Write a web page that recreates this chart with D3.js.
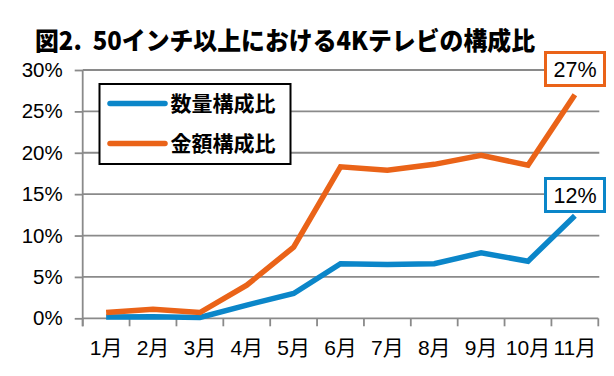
<!DOCTYPE html>
<html><head><meta charset="utf-8">
<script src="https://cdn.jsdelivr.net/npm/d3@7/dist/d3.min.js"></script>
<style>
html,body{margin:0;padding:0;background:#fff;}
svg{display:block;}
</style></head>
<body>
<svg id="chart" width="614" height="376"></svg>
<script>
const title = "図2.  50インチ以上における4Kテレビの構成比";
const months = ["1月","2月","3月","4月","5月","6月","7月","8月","9月","10月","11月"];
const unitShare = [0.15, 0.2, 0.1, 1.6, 3.0, 6.6, 6.5, 6.6, 7.9, 6.9, 12.4];
const valueShare = [0.7, 1.1, 0.7, 4.0, 8.6, 18.3, 17.9, 18.6, 19.7, 18.5, 27.0];
const yTicks = [0, 5, 10, 15, 20, 25, 30];
const seriesNames = ["数量構成比", "金額構成比"];
const seriesColors = ["#0b86c9", "#ea6318"];
const endLabels = ["12%", "27%"];

const svg = d3.select("#chart");
const pLeft = 82.7, pRight = 598.3, pTop = 70, pBottom = 318.3;
const latin = "'Liberation Sans', 'Noto Sans CJK JP', sans-serif";
const cjk = "'Noto Sans CJK JP', sans-serif";
const gray = "#8a8a8a";

const x = d3.scaleBand().domain(months).range([pLeft, pRight]).padding(0);
const y = d3.scaleLinear().domain([0, 30]).range([pBottom, pTop]);

// title
svg.append("text").attr("x", 35).attr("y", 50)
  .style("white-space", "pre")
  .attr("font-family", "'Liberation Sans Narrow', 'Noto Sans CJK JP', sans-serif")
  .attr("font-weight", "900").attr("font-size", 25)
  .attr("textLength", 500).attr("lengthAdjust", "spacingAndGlyphs")
  .attr("fill", "#000").text(title);

// gridlines
svg.append("g").selectAll("line").data(yTicks.filter(d => d > 0)).join("line")
  .attr("x1", pLeft).attr("x2", pRight + 1)
  .attr("y1", d => y(d)).attr("y2", d => y(d))
  .attr("stroke", gray).attr("stroke-width", 1.8);

// y axis
const yAxis = svg.append("g").attr("transform", `translate(${pLeft},0)`)
  .call(d3.axisLeft(y).tickValues(yTicks).tickFormat(d => d + "%").tickSize(8).tickPadding(12));
yAxis.select(".domain").attr("stroke", gray).attr("stroke-width", 1.8).attr("d", `M0,${pBottom + 8}V${pTop}`);
yAxis.selectAll(".tick line").attr("stroke", gray).attr("stroke-width", 1.8);
yAxis.selectAll(".tick text").attr("font-family", latin).attr("font-size", 20.5).attr("fill", "#000");

// x axis
const xAxis = svg.append("g").attr("transform", `translate(0,${pBottom})`)
  .call(d3.axisBottom(x).tickSize(0).tickPadding(22));
xAxis.select(".domain").attr("stroke", gray).attr("stroke-width", 1.8).attr("d", `M${pLeft},0H${pRight}`);
xAxis.selectAll(".tick text").attr("font-family", latin).attr("font-size", 21).attr("fill", "#000");
const bounds = months.map(m => x(m)).concat([x(months[months.length - 1]) + x.bandwidth()]);
xAxis.append("g").selectAll("line").data(bounds).join("line")
  .attr("x1", d => d).attr("x2", d => d).attr("y1", 0).attr("y2", 8)
  .attr("stroke", gray).attr("stroke-width", 1.8);

// lines
const seriesData = [unitShare, valueShare];
const line = d3.line().x((d, i) => x(months[i]) + x.bandwidth() / 2).y(d => y(d));
seriesData.forEach((s, k) => {
  svg.append("path").datum(s).attr("d", line)
    .attr("fill", "none").attr("stroke", seriesColors[k])
    .attr("stroke-width", 5.5).attr("stroke-linejoin", "miter").attr("stroke-linecap", "butt");
});

// end labels
const labelY = [195, 69];
seriesData.forEach((s, k) => {
  const cx = 575, cy = labelY[k];
  svg.append("rect").attr("x", cx - 29.5).attr("y", cy - 16.5).attr("width", 59).attr("height", 33)
    .attr("fill", "#fff").attr("stroke", seriesColors[k]).attr("stroke-width", 3);
  svg.append("text").attr("x", cx).attr("y", cy).attr("dy", "0.36em")
    .attr("text-anchor", "middle").attr("font-family", latin).attr("font-size", 21.5)
    .attr("fill", "#000").text(endLabels[k]);
});

// legend
const lg = svg.append("g");
lg.append("rect").attr("x", 99.5).attr("y", 84).attr("width", 191).attr("height", 80)
  .attr("fill", "#fff").attr("stroke", "#000").attr("stroke-width", 2);
const legY = [103.5, 143.5];
seriesNames.forEach((n, k) => {
  lg.append("line").attr("x1", 110).attr("x2", 165).attr("y1", legY[k]).attr("y2", legY[k])
    .attr("stroke", seriesColors[k]).attr("stroke-width", 5.5).attr("stroke-linecap", "round");
  lg.append("text").attr("x", 170.5).attr("y", legY[k]).attr("dy", "0.36em")
    .attr("font-family", cjk).attr("font-weight", "bold").attr("font-size", 21)
    .attr("fill", "#000").text(n);
});
</script>
</body></html>
